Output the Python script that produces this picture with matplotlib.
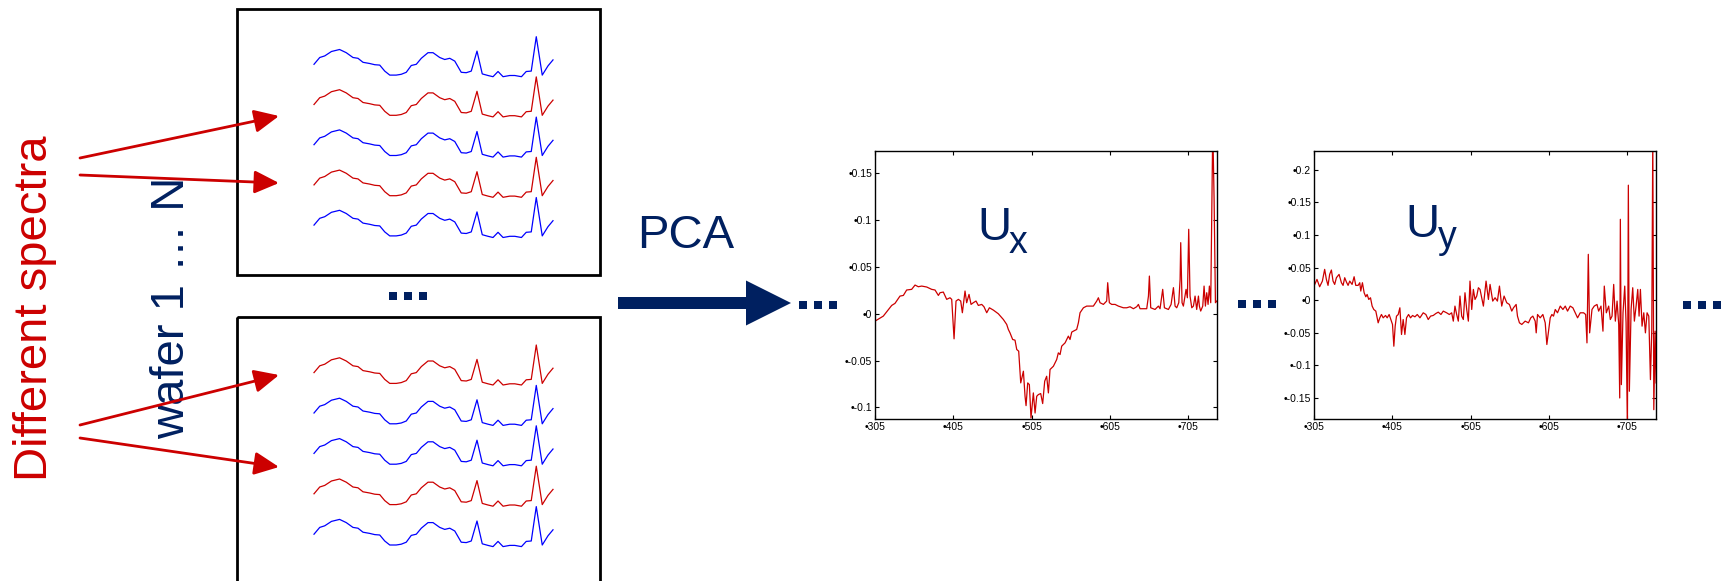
import numpy as np
import matplotlib
matplotlib.use("Agg")
import matplotlib.pyplot as plt
from matplotlib.patches import Rectangle, FancyArrowPatch

plt.rcParams['font.family'] = ['Liberation Sans', 'DejaVu Sans']

NAVY = "#002060"
RED = "#CC0000"
BLUE = "#0000FF"

# generic Raman-like spectrum shown inside the wafer boxes (channel, relative intensity)
spec_channel = [0, 2.4, 4.5, 7.3, 10.7, 13.5, 16.3, 18.4, 20.5, 23.3, 25.4, 27.5, 29.6,
                31.7, 34.4, 36.5, 38.6, 40.7, 42.8, 44.9, 47.7, 49.8, 52.6, 54.7, 56.8,
                58.9, 61.6, 63.7, 65.8, 68.2, 70.4, 72.8, 74.9, 77.0, 79.1, 81.9, 84.0,
                86.8, 88.8, 90.9, 93.0, 95.5, 97.9, 100]
spec_intensity = [0.31, 0.48, 0.52, 0.63, 0.68, 0.60, 0.48, 0.46, 0.36, 0.33, 0.30, 0.29,
                  0.14, 0.04, 0.04, 0.06, 0.11, 0.28, 0.31, 0.46, 0.60, 0.60, 0.48, 0.43,
                  0.46, 0.39, 0.11, 0.10, 0.14, 0.64, 0.07, 0.03, 0.00, 0.13, 0.00, 0.03,
                  0.03, 0.00, 0.13, 0.14, 1.00, 0.04, 0.27, 0.42]
box1_colors = [BLUE, RED, BLUE, RED, BLUE]
box2_colors = [RED, BLUE, BLUE, RED, BLUE]

# first loading vector U_x
ux_wl = [305.0, 315.6, 326.3, 330.5, 336.9, 341.2, 345.4, 351.8, 356.1, 360.3, 364.6, 371.0,
         377.3, 381.6, 385.9, 388.0, 392.2, 396.5, 400.7, 402.9, 405.9, 408.4, 411.4, 414.4,
         416.5, 419.9, 422.0, 425.0, 427.6, 430.5, 433.9, 436.9, 441.2, 444.1, 447.6, 451.0,
         456.1, 462.4, 468.8, 473.1, 475.2, 477.3, 480.7, 483.7, 485.9, 488.4, 491.0, 494.4,
         496.5, 497.8, 499.9, 502.0, 504.1, 507.1, 509.3, 511.4, 513.5, 516.5, 519.0, 521.6,
         524.1, 526.3, 528.4, 532.7, 534.8, 536.9, 539.0, 541.2, 543.3, 545.4, 547.6, 551.8,
         553.9, 556.1, 558.2, 562.4, 564.6, 566.7, 571.0, 575.2, 583.7, 588.0, 590.1, 592.2,
         596.5, 600.7, 602.0, 604.1, 607.1, 611.4, 615.6, 622.0, 626.3, 630.5, 634.8, 639.0,
         641.2, 643.3, 647.6, 651.8, 654.0, 655.2, 656.9, 662.4, 666.7, 668.8, 672.2, 674.4,
         679.5, 682.9, 685.9, 688.0, 690.1, 692.7, 694.4, 695.2, 696.9, 698.6, 702.0, 703.7,
         705.4, 707.1, 709.3, 711.4, 713.5, 715.6, 717.8, 719.0, 720.7, 723.3, 725.0, 726.7,
         728.4, 730.1, 731.8, 733.5, 734.8, 736.1, 737.8, 739.5, 741.2]
ux_val = [-0.0079, -0.0025, 0.0089, 0.0111, 0.0189, 0.0196, 0.0254, 0.0261, 0.0307, 0.0289,
          0.0296, 0.0286, 0.0261, 0.0254, 0.0196, 0.0225, 0.0232, 0.0154, 0.0171, 0.0154,
          -0.0268, 0.0136, 0.0154, 0.0136, 0.0011, 0.0243, 0.0118, 0.0207, 0.0100, 0.0118,
          0.0136, 0.0089, 0.0100, 0.0075, 0.0011, 0.0064, 0.0039, 0.0, -0.0061, -0.0114,
          -0.0168, -0.0204, -0.0275, -0.0282, -0.0382, -0.0400, -0.0739, -0.0614, -0.0882,
          -0.0982, -0.0739, -0.0757, -0.1114, -0.0846, -0.1061, -0.0882, -0.0864, -0.0853,
          -0.0960, -0.0721, -0.0668, -0.0846, -0.0596, -0.0561, -0.0525, -0.0489, -0.0418,
          -0.0436, -0.0346, -0.0329, -0.0311, -0.0239, -0.0275, -0.0196, -0.0186, -0.0168,
          -0.0096, 0.0011, 0.0064, 0.0082, 0.0082, 0.0136, 0.0171, 0.0118, 0.0100, 0.0136,
          0.0332, 0.0118, 0.0100, 0.0100, 0.0082, 0.0064, 0.0064, 0.0075, 0.0054, 0.0075,
          0.0100, 0.0054, 0.0054, 0.0054, 0.0189, 0.0403, 0.0064, 0.0046, 0.0082, 0.0054,
          0.0261, 0.0064, 0.0046, 0.0100, 0.0279, 0.0082, 0.0064, 0.0118, 0.0368, 0.0760,
          0.0118, 0.0082, 0.0261, 0.0171, 0.0903, 0.0189, 0.0064, 0.0082, 0.0189, 0.0046,
          0.0189, 0.0082, 0.0029, 0.0082, 0.0296, 0.0082, 0.0225, 0.0100, 0.0296, 0.0118,
          0.1046, 0.2000, 0.1225, 0.0118, 0.0136]

# second loading vector U_y
uy_wl = [305.9, 308.8, 312.2, 315.7, 318.6, 320.8, 322.9, 325.0, 327.2, 329.3, 331.4, 333.6,
         337.0, 340.0, 342.1, 344.2, 346.4, 348.5, 350.6, 353.6, 356.2, 358.3, 361.3, 363.4,
         364.7, 366.8, 369.0, 371.1, 372.8, 374.9, 377.1, 379.2, 381.3, 383.9, 386.9, 389.0,
         391.1, 393.3, 396.3, 398.4, 400.9, 403.1, 405.2, 406.9, 408.6, 410.3, 412.5, 414.6,
         416.7, 418.8, 421.0, 423.1, 425.7, 428.2, 430.8, 433.8, 436.8, 440.2, 444.4, 447.8,
         450.8, 453.8, 457.2, 460.6, 463.6, 467.0, 470.0, 474.3, 477.7, 480.7, 482.8, 484.9,
         487.1, 489.2, 491.3, 493.5, 495.6, 497.7, 499.9, 502.0, 504.1, 506.3, 508.4, 510.5,
         512.7, 514.8, 516.9, 521.2, 524.6, 527.6, 529.7, 533.1, 536.1, 539.1, 541.7, 544.6,
         547.6, 551.0, 554.4, 557.4, 559.6, 563.0, 564.7, 567.2, 570.2, 574.5, 578.7, 581.7,
         584.3, 587.3, 588.6, 590.3, 593.7, 597.1, 600.1, 602.2, 604.3, 606.5, 608.6, 610.7,
         612.9, 615.8, 619.3, 622.7, 625.7, 628.6, 632.0, 635.4, 638.4, 641.4, 644.8, 649.1,
         651.7, 653.4, 655.1, 656.8, 659.8, 662.7, 666.2, 668.3, 671.3, 673.8, 675.5, 678.1,
         681.1, 683.2, 685.4, 687.5, 689.6, 691.8, 693.9, 695.2, 696.0, 697.3, 699.4, 701.6,
         703.3, 705.0, 706.2, 707.5, 709.7, 711.8, 713.9, 716.1, 718.2, 719.9, 721.6, 723.7,
         725.9, 728.0, 730.1, 732.3, 734.4, 736.1, 737.4, 738.7, 740.4, 741.6]
uy_val = [0.0241, 0.0318, 0.0205, 0.0292, 0.0472, 0.0318, 0.0226, 0.0395, 0.0462, 0.0292,
          0.0241, 0.0344, 0.0395, 0.0267, 0.0226, 0.0344, 0.0277, 0.0226, 0.0292, 0.0241,
          0.0359, 0.0226, 0.0226, 0.0267, 0.0139, 0.0267, 0.0113, 0.0051, 0.0087, 0.0010,
          0.0036, -0.0092, -0.0144, -0.0169, -0.0349, -0.0272, -0.0221, -0.0272, -0.0236,
          -0.0272, -0.0221, -0.0298, -0.0374, -0.0708, -0.0400, -0.0246, -0.0221, -0.0118,
          -0.0528, -0.0298, -0.0528, -0.0272, -0.0221, -0.0272, -0.0236, -0.0257, -0.0221,
          -0.0272, -0.0195, -0.0221, -0.0298, -0.0246, -0.0236, -0.0205, -0.0185, -0.0221,
          -0.0169, -0.0195, -0.0221, -0.0195, -0.0323, -0.0092, -0.0221, -0.0323, 0.0062,
          -0.0246, -0.0298, 0.0113, -0.0144, -0.0323, 0.0292, -0.0144, 0.0164, 0.0010,
          0.0062, 0.0190, 0.0164, -0.0092, 0.0292, 0.0010, 0.0241, -0.0015, 0.0036, -0.0015,
          0.0215, -0.0092, 0.0062, -0.0041, -0.0067, -0.0169, -0.0118, -0.0067, -0.0246,
          -0.0349, -0.0374, -0.0323, -0.0349, -0.0272, -0.0246, -0.0323, -0.0503, -0.0221,
          -0.0272, -0.0221, -0.0349, -0.0682, -0.0477, -0.0272, -0.0221, -0.0246, -0.0144,
          -0.0195, -0.0092, -0.0144, -0.0092, -0.0169, -0.0092, -0.0118, -0.0195, -0.0272,
          -0.0195, -0.0195, -0.0221, -0.0657, 0.0703, -0.0503, -0.0144, -0.0092, -0.0067,
          -0.0169, -0.0092, -0.0477, 0.0215, -0.0195, -0.0092, -0.0298, -0.0246, 0.0241,
          -0.0323, -0.0015, -0.0374, -0.1503, 0.1241, -0.1298, -0.0195, 0.0215, -0.0349,
          -0.2000, 0.1765, -0.1400, -0.0144, 0.0190, -0.0323, -0.0092, 0.0164, -0.0246,
          0.0164, -0.0400, -0.0195, -0.0503, -0.0195, -0.0246, -0.1221, -0.0451, 0.2500,
          -0.1683, -0.0477, -0.1272]

wl_ticks = [305, 405, 505, 605, 705]
ux_ticks = [-0.1, -0.05, 0, 0.05, 0.1, 0.15]
ux_tick_labels = ["-0.1", "-0.05", "0", "0.05", "0.1", "0.15"]
uy_ticks = [-0.15, -0.1, -0.05, 0, 0.05, 0.1, 0.15, 0.2]
uy_tick_labels = ["-0.15", "-0.1", "-0.05", "0", "0.05", "0.1", "0.15", "0.2"]

W, H = 1721, 581
fig = plt.figure(figsize=(W / 100, H / 100), dpi=100)

# canvas axes in pixel units for the schematic part
ax = fig.add_axes([0, 0, 1, 1])
ax.set_xlim(0, W)
ax.set_ylim(H, 0)
ax.axis("off")

# wafer boxes
ax.add_patch(Rectangle((237, 9), 363, 266, fill=False, ec="black", lw=2))
ax.add_patch(Rectangle((237, 317), 363, 300, fill=False, ec="black", lw=2))

# stacked spectra inside the boxes
chan = np.array(spec_channel)
inten = np.array(spec_intensity)
xs = 314 + chan * 2.39
for i, c in enumerate(box1_colors):
    ax.plot(xs, 76.7 + 40.2 * i - inten * 40, color=c, lw=0.9)
for i, c in enumerate(box2_colors):
    ax.plot(xs, 385 + 40.4 * i - inten * 40, color=c, lw=0.9)

# labels
ax.text(35, 308, "Different spectra", rotation=90, color=RED, fontsize=34,
        ha="center", va="center")
ax.text(172, 308, "wafer 1 \u2026 N", rotation=90, color=NAVY, fontsize=34,
        ha="center", va="center")
ax.text(686, 236, "PCA", color=NAVY, fontsize=34, ha="center", va="center")

# red arrows pointing at the highlighted spectra
arrows = [((80, 158), (279, 116)), ((80, 175), (279, 183)),
          ((80, 425), (279, 375)), ((80, 438), (279, 467))]
for start, end in arrows:
    ax.add_patch(FancyArrowPatch(start, end, arrowstyle="-|>,head_length=15,head_width=7",
                                 color=RED, lw=2, shrinkA=0, shrinkB=0, zorder=5))

# big PCA arrow
ax.arrow(618, 303, 173, 0, width=12, head_width=45, head_length=45,
         length_includes_head=True, color=NAVY, lw=0)

# ellipsis markers
for cx, cy in [(408, 296), (818, 305), (1257, 304), (1702, 305)]:
    ax.scatter([cx - 15, cx, cx + 15], [cy] * 3, marker="s", s=36, color=NAVY, lw=0)


def loading_axes(rect, wl, val, ylim, yticks, ylabels):
    a = fig.add_axes(rect)
    a.plot(wl, val, color=RED, lw=0.9)
    a.set_xlim(305, 741.5)
    a.set_ylim(*ylim)
    a.set_xticks(wl_ticks)
    a.set_xticklabels(["\u2022" + str(t) for t in wl_ticks])
    a.set_yticks(yticks)
    a.set_yticklabels(["\u2022" + s for s in ylabels])
    a.tick_params(direction="in", length=3, width=0.8, labelsize=7.5, pad=2,
                  top=True, right=True, colors="black")
    for s in a.spines.values():
        s.set_linewidth(1.0)
    return a


ax_x = loading_axes([875 / W, 1 - 419 / H, 342 / W, 268 / H], ux_wl, ux_val,
                    (-0.1125, 0.174), ux_ticks, ux_tick_labels)
ax_y = loading_axes([1314 / W, 1 - 419 / H, 342 / W, 268 / H], uy_wl, uy_val,
                    (-0.1826, 0.229), uy_ticks, uy_tick_labels)

# component names, placed on the figure so they sit above the loading plots
px = ax.transData
fig.text(977, 240, "U", color=NAVY, fontsize=34, ha="left", va="baseline", transform=px)
fig.text(1009, 253, "x", color=NAVY, fontsize=27, ha="left", va="baseline", transform=px)
fig.text(1405, 237, "U", color=NAVY, fontsize=34, ha="left", va="baseline", transform=px)
fig.text(1438, 248, "y", color=NAVY, fontsize=27, ha="left", va="baseline", transform=px)

fig.savefig("out.png", dpi=100)
